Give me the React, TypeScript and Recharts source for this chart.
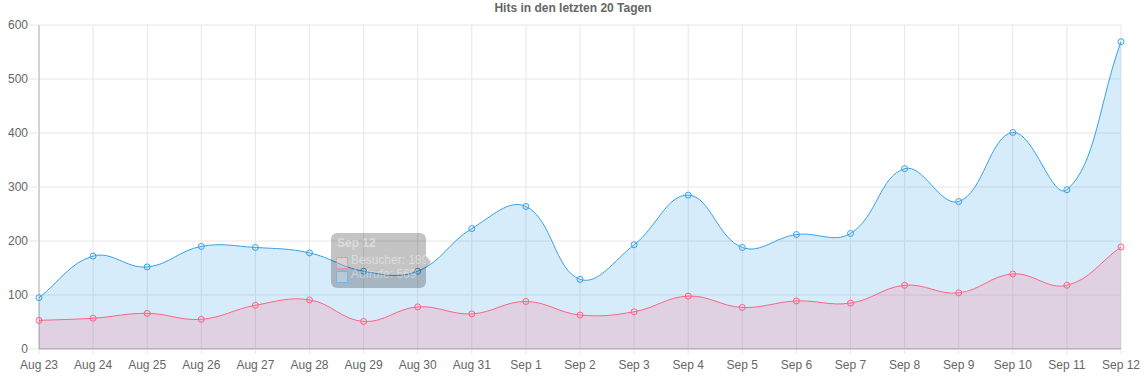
import React from 'react';
import { AreaChart, Area, XAxis, YAxis, CartesianGrid, Tooltip } from 'recharts';

const days = [
  'Aug 23', 'Aug 24', 'Aug 25', 'Aug 26', 'Aug 27', 'Aug 28', 'Aug 29', 'Aug 30', 'Aug 31',
  'Sep 1', 'Sep 2', 'Sep 3', 'Sep 4', 'Sep 5', 'Sep 6', 'Sep 7', 'Sep 8', 'Sep 9', 'Sep 10',
  'Sep 11', 'Sep 12',
];
const besucher = [53, 57, 66, 55, 81, 91, 51, 78, 65, 88, 63, 69, 98, 77, 89, 85, 118, 104, 139, 118, 189];
const aufrufe = [95, 172, 152, 190, 188, 178, 144, 144, 223, 264, 129, 193, 285, 188, 212, 214, 334, 273, 401, 295, 569];
const yTicks = [0, 100, 200, 300, 400, 500, 600];

const BLUE = '#36a2eb';
const PINK = '#ff6384';
const FONT = '"Liberation Sans", Arial, sans-serif';

const data = days.map((day, i) => ({ day, besucher: besucher[i], aufrufe: aufrufe[i] }));

// Chart.js-style spline (tension 0.4) as a d3 curve factory
function chartJsCurve(context: any) {
  let pts: number[][] = [];
  let line = NaN;
  const tension = 0.4;
  return {
    areaStart() {
      line = 0;
    },
    areaEnd() {
      line = NaN;
    },
    lineStart() {
      pts = [];
    },
    point(x: number, y: number) {
      pts.push([+x, +y]);
    },
    lineEnd() {
      const n = pts.length;
      if (n) {
        const cps = pts.map((cur, i) => {
          const prev = pts[i - 1] || cur;
          const next = pts[i + 1] || cur;
          const d01 = Math.hypot(cur[0] - prev[0], cur[1] - prev[1]);
          const d12 = Math.hypot(next[0] - cur[0], next[1] - cur[1]);
          let s01 = d01 / (d01 + d12);
          let s12 = d12 / (d01 + d12);
          if (isNaN(s01)) s01 = 0;
          if (isNaN(s12)) s12 = 0;
          const fa = tension * s01;
          const fb = tension * s12;
          return {
            prev: [cur[0] - fa * (next[0] - prev[0]), cur[1] - fa * (next[1] - prev[1])],
            next: [cur[0] + fb * (next[0] - prev[0]), cur[1] + fb * (next[1] - prev[1])],
          };
        });
        if (line) context.lineTo(pts[0][0], pts[0][1]);
        else context.moveTo(pts[0][0], pts[0][1]);
        for (let i = 1; i < n; i++) {
          const a = cps[i - 1].next;
          const b = cps[i].prev;
          context.bezierCurveTo(a[0], a[1], b[0], b[1], pts[i][0], pts[i][1]);
        }
      }
      if (line) context.closePath();
      line = 1 - line;
    },
  };
}

// faded Chart.js tooltip, caught mid-transition
function HitsTooltip({ payload, label }: any) {
  if (!payload || !payload.length) return null;
  const rows = [
    { name: 'Besucher', color: 'rgba(255,99,132,0.5)', fill: 'rgba(255,235,240,0.35)', value: payload.find((p: any) => p.dataKey === 'besucher')?.value },
    { name: 'Aufrufe', color: 'rgba(54,162,235,0.5)', fill: 'rgba(225,240,252,0.35)', value: payload.find((p: any) => p.dataKey === 'aufrufe')?.value },
  ];
  return (
    <div
      style={{
        position: 'relative',
        background: 'rgba(0,0,0,0.23)',
        color: 'rgba(255,255,255,0.42)',
        borderRadius: 6,
        width: 95,
        height: 55,
        fontFamily: FONT,
        fontSize: 12,
        lineHeight: '14px',
        whiteSpace: 'nowrap',
      }}
    >
      <div style={{ position: 'absolute', left: 6, top: 3, fontWeight: 'bold' }}>{label}</div>
      {rows.map((r, i) => (
        <React.Fragment key={r.name}>
          <span
            style={{
              position: 'absolute',
              left: 5,
              top: 24 + i * 14,
              width: 12,
              height: 12,
              boxSizing: 'border-box',
              border: `1px solid ${r.color}`,
              background: r.fill,
            }}
          />
          <div style={{ position: 'absolute', left: 20, top: 20 + i * 14 }}>
            {r.name}: {r.value}
          </div>
        </React.Fragment>
      ))}
      <div
        style={{
          position: 'absolute',
          right: -5,
          top: 23,
          width: 0,
          height: 0,
          borderTop: '6px solid transparent',
          borderBottom: '6px solid transparent',
          borderLeft: '5px solid rgba(0,0,0,0.23)',
        }}
      />
    </div>
  );
}

export default function App() {
  return (
    <div style={{ position: 'relative', width: 1146, height: 378, background: '#fff', overflow: 'hidden' }}>
      <style>{'html, body { margin: 0; padding: 0; overflow: hidden; }'}</style>
      <AreaChart
        width={1146}
        height={378}
        data={data}
        margin={{ top: 25, right: 25, left: 0, bottom: 0 }}
        style={{ fontFamily: FONT }}
      >
        <CartesianGrid stroke="#e6e6e6" />
        <XAxis
          dataKey="day"
          height={29}
          interval={0}
          tick={{ fontSize: 12, fill: '#666' }}
          tickSize={5}
          tickMargin={6}
          tickLine={{ stroke: '#e6e6e6' }}
          axisLine={{ stroke: 'rgba(0,0,0,0.25)' }}
        />
        <YAxis
          width={39}
          domain={[0, 600]}
          ticks={yTicks}
          interval={0}
          tick={{ fontSize: 12, fill: '#666' }}
          tickSize={10}
          tickMargin={1}
          tickLine={{ stroke: '#e6e6e6' }}
          axisLine={{ stroke: 'rgba(0,0,0,0.25)' }}
        />
        <Tooltip
          active
          defaultIndex={20}
          position={{ x: 331, y: 233 }}
          cursor={false}
          content={<HitsTooltip />}
          isAnimationActive={false}
          wrapperStyle={{ outline: 'none' }}
        />
        <Area
          dataKey="aufrufe"
          name="Aufrufe"
          type={chartJsCurve as any}
          stroke={BLUE}
          strokeWidth={1}
          fill={BLUE}
          fillOpacity={0.2}
          dot={{ r: 3, stroke: BLUE, strokeWidth: 1, fill: 'rgba(54,162,235,0.2)' }}
          activeDot={false}
          isAnimationActive={false}
        />
        <Area
          dataKey="besucher"
          name="Besucher"
          type={chartJsCurve as any}
          stroke={PINK}
          strokeWidth={1}
          fill={PINK}
          fillOpacity={0.2}
          dot={{ r: 3, stroke: PINK, strokeWidth: 1, fill: 'rgba(255,99,132,0.2)' }}
          activeDot={false}
          isAnimationActive={false}
        />
      </AreaChart>
      <div
        style={{
          position: 'absolute',
          zIndex: 2,
          top: 1,
          left: 0,
          width: 1146,
          textAlign: 'center',
          fontFamily: FONT,
          fontWeight: 'bold',
          fontSize: 12,
          lineHeight: '14px',
          color: '#666',
        }}
      >
        Hits in den letzten 20 Tagen
      </div>
    </div>
  );
}
